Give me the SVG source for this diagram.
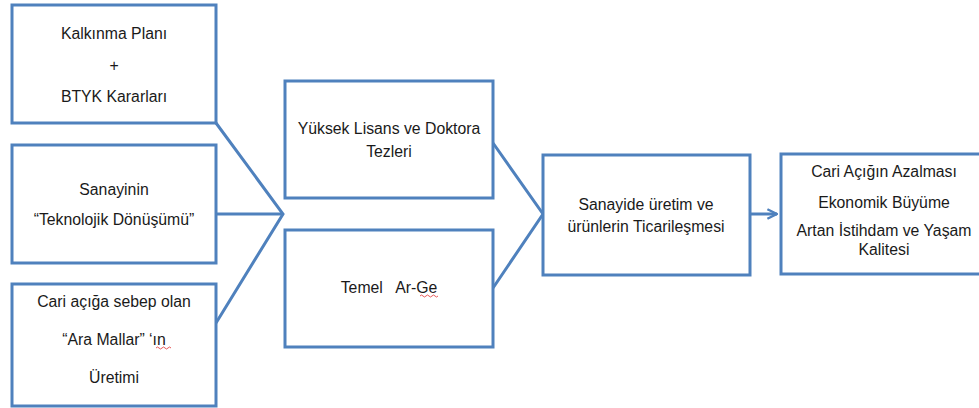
<svg xmlns="http://www.w3.org/2000/svg" width="979" height="408" viewBox="0 0 979 408">
  <defs>
    <style>
      .box { fill: #ffffff; stroke: #4f81bd; stroke-width: 3; }
      .conn { fill: none; stroke: #4f81bd; stroke-width: 3; stroke-linejoin: miter; }
      .lbl { font-family: "Liberation Sans", Arial, sans-serif; font-size: 15.8px; fill: #1a1a1a; text-anchor: middle; }
      .squig { fill: none; stroke: #e03030; stroke-width: 0.8; }
    </style>
    <marker id="arrow" viewBox="0 0 10 10" refX="9" refY="5" markerWidth="4" markerHeight="4" orient="auto" markerUnits="strokeWidth">
      <path d="M1,1 L9,5 L1,9" fill="none" stroke="#4f81bd" stroke-width="2"/>
    </marker>
  </defs>
  <rect width="979" height="408" fill="#ffffff"/>

  <g id="connectors">
    <path class="conn" d="M216,123 L283,214 L216,323"/>
    <path class="conn" d="M216,214 L283,214"/>
    <path class="conn" d="M493,143 L543,214 L493,288"/>
    <path class="conn" d="M750,214 L777,214" marker-end="url(#arrow)"/>
  </g>

  <g id="n-kalkinma">
    <rect class="box" x="12" y="5" width="204" height="118"/>
    <text class="lbl" x="114" y="39">Kalkınma Planı</text>
    <text class="lbl" x="114" y="71">+</text>
    <text class="lbl" x="114" y="102">BTYK Kararları</text>
  </g>

  <g id="n-sanayinin">
    <rect class="box" x="12" y="145" width="204" height="118"/>
    <text class="lbl" x="114" y="195">Sanayinin</text>
    <text class="lbl" x="114" y="225">“Teknolojik Dönüşümü”</text>
  </g>

  <g id="n-aramallar">
    <rect class="box" x="12" y="284" width="204" height="122"/>
    <text class="lbl" x="114" y="307">Cari açığa sebep olan</text>
    <text class="lbl" x="114" y="345">“Ara Mallar” ‘ın</text>
    <path class="squig" d="M156,348 q1.5,-2 3,0 t3,0 t3,0 t3,0 t3,0"/>
    <text class="lbl" x="114" y="383">Üretimi</text>
  </g>

  <g id="n-tezler">
    <rect class="box" x="285" y="81" width="208" height="117"/>
    <text class="lbl" x="389" y="134">Yüksek Lisans ve Doktora</text>
    <text class="lbl" x="389" y="157">Tezleri</text>
  </g>

  <g id="n-arge">
    <rect class="box" x="285" y="230" width="208" height="117"/>
    <text class="lbl" x="389" y="293" xml:space="preserve">Temel   Ar-Ge</text>
    <path class="squig" d="M420,296 q1.5,-2 3,0 t3,0 t3,0 t3,0 t3,0 t3,0"/>
  </g>

  <g id="n-ticari">
    <rect class="box" x="543" y="155" width="207" height="120"/>
    <text class="lbl" x="646" y="210">Sanayide üretim ve</text>
    <text class="lbl" x="646" y="232">ürünlerin Ticarileşmesi</text>
  </g>

  <g id="n-sonuc">
    <rect class="box" x="781" y="154" width="212" height="120"/>
    <text class="lbl" x="884" y="177">Cari Açığın Azalması</text>
    <text class="lbl" x="884" y="208">Ekonomik Büyüme</text>
    <text class="lbl" x="884" y="236">Artan İstihdam ve Yaşam</text>
    <text class="lbl" x="884" y="255">Kalitesi</text>
  </g>
</svg>
